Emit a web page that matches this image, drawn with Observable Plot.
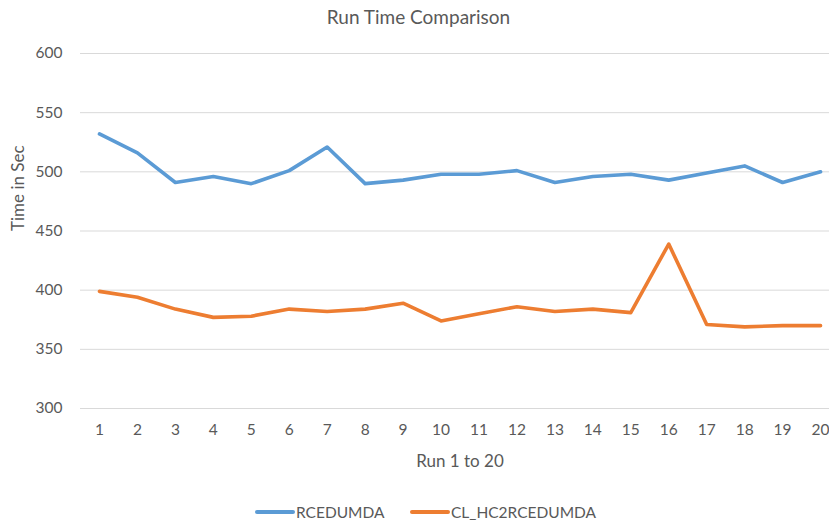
<!DOCTYPE html>
<html>
<head>
<meta charset="utf-8">
<script src="https://cdn.jsdelivr.net/npm/d3@7"></script>
<script src="https://cdn.jsdelivr.net/npm/@observablehq/plot@0.6"></script>
<style>
  html, body { margin: 0; padding: 0; background: #fff; }
  body { width: 829px; height: 522px; overflow: hidden; font-family: Lato, "Open Sans", sans-serif; color: #595959; }
  #title { height: 34px; line-height: 34px; text-align: center; font-size: 19px; color: #595959; padding-left: 8px; }
  #legend { height: 38px; position: relative; font-size: 15.5px; color: #595959; }
  .item { position: absolute; top: 18px; height: 20px; line-height: 20px; display: flex; align-items: center; }
  .sw { display: inline-block; width: 40px; height: 4px; border-radius: 2px; margin-right: 1px; }
</style>
</head>
<body>
<div id="title">Run Time Comparison</div>
<div id="chart"></div>
<div id="legend"></div>
<script>
const runs = [1,2,3,4,5,6,7,8,9,10,11,12,13,14,15,16,17,18,19,20];
const rcedumda = [532,516,491,496,490,501,521,490,493,498,498,501,491,496,498,493,499,505,491,500];
const clHc2 = [399,394,384,377,378,384,382,384,389,374,380,386,382,384,381,439,371,369,370,370];
const seriesNames = ["RCEDUMDA", "CL_HC2RCEDUMDA"];
const seriesColors = ["#5b9bd5", "#ed7d31"];
const yTicks = [300,350,400,450,500,550,600];

const data = [];
runs.forEach((r, i) => {
  data.push({run: r, value: rcedumda[i], series: seriesNames[0]});
  data.push({run: r, value: clHc2[i], series: seriesNames[1]});
});

const font = 'Lato, "Open Sans", sans-serif';
const chart = Plot.plot({
  width: 829,
  height: 450,
  marginLeft: 80,
  marginRight: 0,
  marginTop: 19,
  marginBottom: 76,
  style: {fontFamily: font, fontSize: "15px", color: "#595959", background: "#fff"},
  x: {domain: [0.5, 20.236], axis: null},
  y: {domain: [300, 600], axis: null},
  color: {domain: seriesNames, range: seriesColors},
  marks: [
    Plot.ruleY(yTicks, {stroke: "#d9d9d9", strokeWidth: 1}),
    Plot.axisY(yTicks, {tickSize: 0, tickPadding: 18, label: null, fontSize: 15.5, fill: "#595959"}),
    Plot.axisX(runs, {tickSize: 0, tickPadding: 15, label: null, fontSize: 15.5, fill: "#595959"}),
    Plot.line(data, {x: "run", y: "value", z: "series", stroke: "series", strokeWidth: 3.6, strokeLinejoin: "round", strokeLinecap: "round"}),
    Plot.text(["Time in Sec"], {frameAnchor: "left", rotate: -90, dx: -62, fontSize: 17, fill: "#595959"}),
    Plot.text(["Run 1 to 20"], {x: [10.5], frameAnchor: "bottom", dy: 58, fontSize: 17, fill: "#595959"})
  ]
});
document.getElementById("chart").appendChild(chart);

const legend = document.getElementById("legend");
const lefts = [255, 410];
seriesNames.forEach((name, i) => {
  const it = document.createElement("div");
  it.className = "item";
  it.style.left = lefts[i] + "px";
  it.innerHTML = `<span class="sw" style="background:${seriesColors[i]}"></span><span>${name}</span>`;
  legend.appendChild(it);
});
</script>
</body>
</html>
